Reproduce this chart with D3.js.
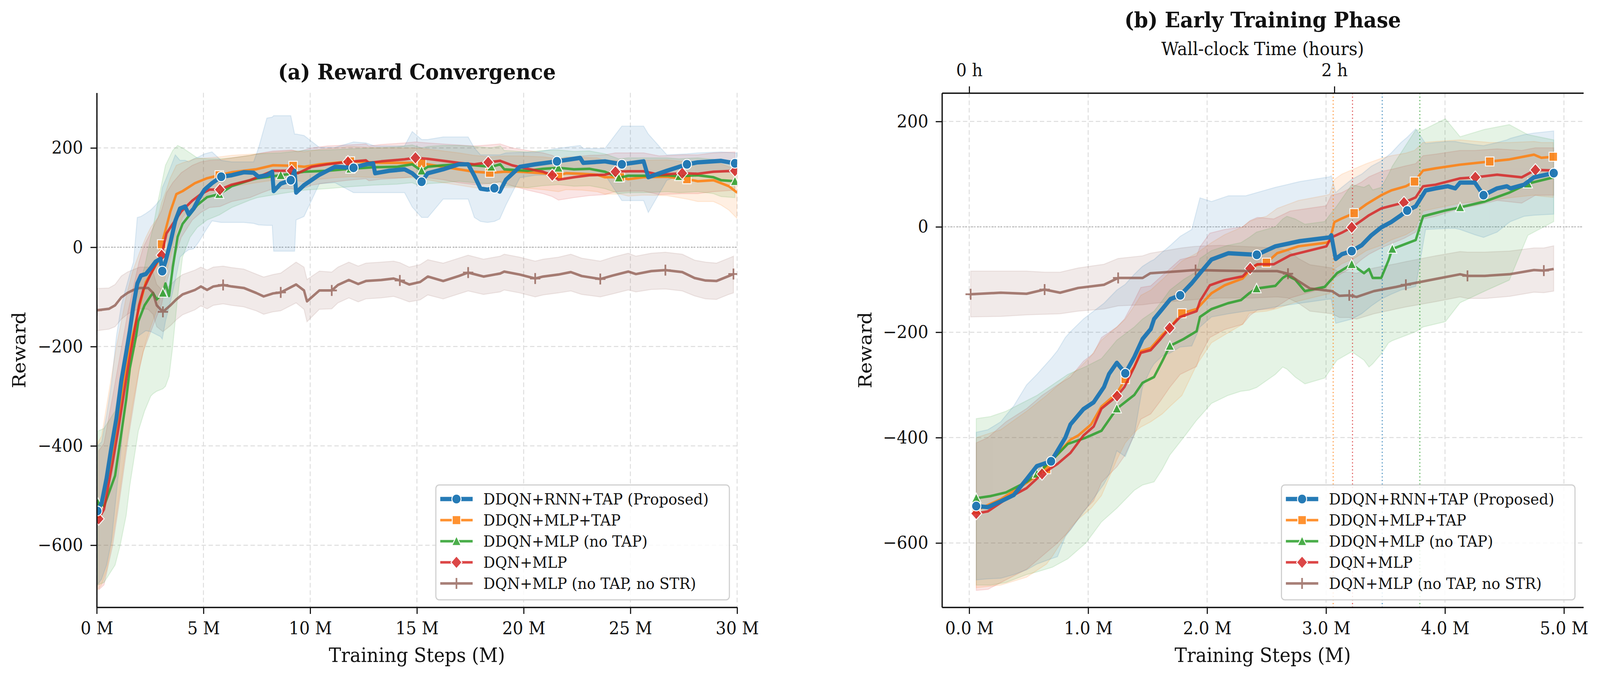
<!DOCTYPE html>
<html>
<head>
<meta charset="utf-8">
<script src="https://cdn.jsdelivr.net/npm/d3@7"></script>
<style>
  html, body { margin: 0; padding: 0; background: #fff; overflow: hidden; }
  svg { display: block; width: 100vw; height: 100vh; font-family: "DejaVu Serif", serif; }
</style>
</head>
<body>
<svg id="chart" viewBox="0 0 4350 1735" preserveAspectRatio="none"></svg>
<script>
// ---------- data ----------
const labels = ["DDQN+RNN+TAP (Proposed)", "DDQN+MLP+TAP", "DDQN+MLP (no TAP)", "DQN+MLP", "DQN+MLP (no TAP, no STR)"];

// panel (a): [steps (M), mean reward, lower band, upper band]
const aBlue = [
  [0.03,-531,-680,-400],[0.23,-515,-668,-392],[0.46,-465,-640,-338],[0.69,-402,-591,-275],
  [0.92,-345,-496,-180],[1.15,-269,-401,-117],[1.38,-212,-294,-80],[1.55,-168,-215,-54],
  [1.72,-117,-190,-30],[1.90,-73,-180,60],[2.07,-57,-175,62],[2.30,-54,-168,68],
  [2.53,-42,-170,75],[2.76,-29,-175,85],[2.99,-23,-180,97],[3.07,-48,-185,120],
  [3.22,-29,-149,135],[3.45,9,-110,160],[3.68,53,-67,186],[3.90,78,-20,175],
  [4.14,82,-10,175],[4.31,66,-5,172],[4.54,78,-3,178],[4.77,97,10,182],
  [5.05,116,30,188],[5.40,129,53,192],[5.83,142,50,175],[6.32,145,50,172],
  [6.89,151,50,172],[7.35,150,48,172],[7.58,142,45,200],[7.97,145,44,260],
  [8.22,152,44,262],[8.29,113,-8,265],[8.62,128,-8,265],[9.09,135,-8,265],
  [9.27,154,-8,228],[9.34,110,55,228],[9.71,125,62,225],[10.43,146,128,201],
  [11.16,162,130,201],[12.03,160,110,212],[12.61,167,110,210],[12.95,169,110,205],
  [13.04,149,110,204],[13.70,154,110,204],[14.42,157,110,204],[14.78,149,81,233],
  [15.22,132,60,217],[15.51,149,60,217],[16.23,157,97,222],[16.96,167,97,222],
  [17.40,167,97,222],[17.69,144,60,200],[17.98,118,52,186],[18.30,116,50,186],
  [18.63,119,52,186],[18.88,112,57,186],[19.17,136,85,190],[19.82,162,140,191],
  [20.54,167,145,191],[21.56,173,146,199],[22.65,180,146,205],[22.79,170,146,199],
  [23.81,173,146,199],[24.60,167,94,244],[25.62,173,94,244],[25.84,141,70,228],
  [26.71,154,135,186],[27.65,167,148,188],[28.16,171,150,190],[29.25,174,152,192],
  [29.90,169,150,190],[30.00,170,150,190]
];
const aOrange = [
  [0.03,-538,-690,-395],[0.23,-522,-680,-380],[0.46,-478,-650,-320],[0.69,-420,-600,-260],
  [0.92,-365,-540,-200],[1.15,-300,-470,-150],[1.38,-240,-400,-100],[1.67,-180,-320,-50],
  [2.01,-117,-240,-10],[2.30,-70,-190,20],[2.53,-54,-160,40],[2.87,-29,-120,60],
  [3.04,6,-90,90],[3.22,34,-60,110],[3.45,72,-20,140],[3.73,107,30,165],
  [4.02,113,60,170],[4.60,129,90,178],[5.17,139,105,180],[5.74,145,115,182],
  [6.32,151,122,185],[7.47,157,130,188],[8.26,165,135,192],[9.20,164,135,195],
  [9.71,162,132,192],[10.43,167,137,197],[11.16,170,140,200],[11.88,173,142,203],
  [13.33,170,140,200],[14.78,170,140,200],[15.22,169,138,199],[16.23,162,130,194],
  [16.96,157,125,190],[17.69,152,120,185],[18.41,150,118,182],[19.10,152,120,184],
  [19.82,152,120,184],[20.91,149,116,182],[21.63,145,112,178],[21.99,149,116,182],
  [22.72,148,115,181],[23.44,146,112,180],[23.81,141,107,175],[24.53,141,107,175],
  [24.90,137,103,171],[25.62,141,105,175],[26.71,142,104,176],[27.65,137,97,172],
  [28.16,133,92,170],[28.89,135,92,172],[29.25,129,85,168],[29.61,123,75,162],
  [30.00,110,58,155]
];
const aGreen = [
  [0.06,-515,-680,-370],[0.34,-522,-675,-365],[0.86,-460,-640,-330],[1.10,-390,-600,-270],
  [1.38,-307,-540,-200],[1.55,-244,-480,-150],[1.84,-180,-400,-100],[1.95,-149,-370,-80],
  [2.24,-117,-330,-40],[2.53,-98,-300,20],[2.64,-92,-295,40],[2.81,-105,-290,80],
  [3.10,-92,-285,140],[3.22,-73,-280,165],[3.39,-98,-260,180],[3.56,-41,-200,195],
  [3.79,21,-100,205],[4.02,47,-20,200],[4.37,66,20,190],[4.71,85,40,180],
  [5.17,101,55,178],[5.74,107,65,178],[6.32,123,80,180],[7.18,135,95,185],
  [7.53,139,100,188],[8.62,145,108,190],[9.71,152,115,195],[10.80,154,118,196],
  [11.88,158,122,198],[12.97,161,125,200],[14.06,162,127,202],[14.78,167,130,206],
  [15.22,154,122,200],[15.51,162,128,203],[16.23,165,130,205],[16.96,167,133,205],
  [17.69,165,130,203],[18.48,162,128,200],[18.90,167,132,204],[19.09,157,124,195],
  [20.18,154,120,192],[20.91,158,124,195],[21.63,160,126,196],[22.36,157,123,193],
  [23.08,158,124,194],[23.81,152,118,188],[24.46,140,108,178],[24.90,144,110,180],
  [25.62,144,110,180],[26.71,145,112,180],[27.29,143,110,178],[28.16,145,112,180],
  [28.89,141,108,177],[29.25,135,102,172],[29.90,133,100,170]
];
const aRed = [
  [0.09,-547,-690,-410],[0.34,-528,-680,-395],[0.75,-433,-600,-300],[1.00,-370,-530,-240],
  [1.23,-307,-460,-185],[1.46,-244,-390,-130],[1.72,-180,-320,-80],[1.98,-117,-250,-30],
  [2.18,-86,-210,0],[2.53,-54,-170,30],[2.99,-16,-120,70],[3.04,-16,-115,75],
  [3.27,28,-70,110],[3.56,47,-30,130],[3.96,72,20,150],[4.48,94,55,165],
  [4.88,107,70,172],[5.28,116,80,175],[5.77,116,82,176],[6.32,126,92,180],
  [7.18,135,100,185],[7.75,145,110,190],[8.26,154,118,194],[9.13,154,118,196],
  [9.42,149,114,192],[10.07,162,125,200],[10.80,167,130,204],[11.77,172,135,206],
  [12.61,175,138,208],[12.75,170,134,204],[13.33,173,137,207],[14.42,177,140,210],
  [14.93,180,143,212],[15.51,178,140,210],[16.23,174,136,208],[16.96,170,130,206],
  [17.69,167,126,204],[18.34,171,128,206],[18.90,174,132,208],[19.46,165,124,200],
  [20.18,158,115,195],[20.91,152,108,190],[21.34,145,102,185],[21.63,136,95,178],
  [22.36,141,100,182],[23.08,145,104,185],[23.81,146,106,186],[24.30,152,112,190],
  [24.90,153,113,190],[25.62,153,113,190],[26.35,146,106,184],[27.43,149,108,186],
  [28.16,148,108,186],[28.89,152,112,190],[29.90,154,115,192]
];
const aBrown = [
  [0.00,-127,-168,-83],[0.57,-124,-165,-82],[0.86,-117,-160,-75],[1.15,-101,-145,-58],
  [1.44,-92,-135,-50],[1.72,-86,-128,-45],[2.01,-82,-124,-40],[2.41,-82,-125,-40],
  [2.64,-92,-135,-50],[2.81,-117,-160,-75],[3.10,-130,-170,-88],[3.45,-117,-158,-76],
  [3.73,-105,-146,-64],[4.02,-95,-136,-55],[4.60,-86,-126,-46],[4.88,-79,-118,-40],
  [5.17,-86,-124,-46],[5.46,-79,-117,-40],[5.92,-76,-114,-38],[6.32,-79,-117,-41],
  [6.89,-82,-120,-44],[7.47,-92,-128,-54],[7.82,-99,-135,-60],[8.26,-93,-130,-55],
  [8.62,-91,-128,-52],[9.34,-75,-112,-30],[9.71,-87,-125,-40],[9.85,-109,-150,-65],
  [10.43,-87,-125,-48],[11.01,-87,-124,-50],[11.30,-76,-112,-40],[11.81,-66,-102,-30],
  [12.25,-74,-110,-38],[12.61,-68,-104,-32],[13.33,-66,-102,-30],[13.91,-63,-99,-28],
  [14.20,-67,-103,-31],[14.64,-75,-110,-40],[15.15,-70,-106,-35],[15.51,-59,-96,-25],
  [16.23,-68,-104,-32],[16.96,-58,-94,-22],[17.40,-51,-88,-16],[18.12,-59,-95,-24],
  [18.90,-53,-90,-18],[19.09,-49,-86,-14],[19.82,-55,-92,-20],[20.54,-63,-100,-28],
  [20.91,-59,-96,-24],[21.63,-55,-92,-20],[22.21,-50,-88,-14],[22.72,-58,-95,-22],
  [23.59,-64,-100,-28],[24.17,-57,-94,-20],[24.90,-49,-86,-12],[25.26,-54,-90,-18],
  [25.98,-48,-85,-12],[26.64,-46,-84,-10],[27.43,-50,-88,-14],[28.01,-62,-98,-26],
  [28.52,-67,-104,-30],[29.03,-68,-105,-32],[29.61,-58,-95,-22],[29.83,-54,-92,-18]
];
const aMarks = [
  [0.03, 3.07, 5.83, 9.09, 12.03, 15.22, 18.63, 21.56, 24.60, 27.65, 29.90],
  [0.03, 3.04, 5.74, 9.20, 11.88, 15.22, 18.41, 21.63, 24.53, 27.65],
  [0.06, 3.10, 5.74, 8.62, 11.88, 15.22, 18.48, 21.63, 24.46, 27.29, 29.90],
  [0.09, 3.04, 5.77, 9.13, 11.77, 14.93, 18.34, 21.34, 24.30, 27.43, 29.90],
  [0.00, 3.10, 5.92, 8.62, 11.01, 14.20, 17.40, 20.54, 23.59, 26.64, 29.83]
];

// panel (b): [steps (M), mean reward, lower band, upper band]
const bBlue = [
  [0.059,-530,-670,-390],[0.157,-532,-668,-385],[0.265,-521,-667,-370],[0.374,-509,-660,-340],
  [0.482,-479,-651,-300],[0.569,-454,-640,-280],[0.688,-445,-630,-250],[0.742,-425,-626,-235],
  [0.808,-400,-588,-210],[0.851,-375,-575,-199],[0.960,-346,-542,-175],[1.046,-333,-515,-160],
  [1.133,-304,-488,-145],[1.176,-279,-470,-135],[1.241,-258,-425,-120],[1.312,-278,-436,-109],
  [1.388,-247,-394,-90],[1.457,-213,-304,-75],[1.526,-194,-270,-65],[1.554,-175,-260,-62],
  [1.623,-156,-245,-48],[1.692,-137,-239,-35],[1.774,-130,-228,-18],[1.871,-107,-226,-5],
  [1.940,-88,-190,55],[2.037,-62,-171,48],[2.180,-50,-165,59],[2.325,-52,-160,59],
  [2.418,-53,-158,65],[2.574,-37,-152,75],[2.781,-27,-145,86],[3.030,-20,-137,95],
  [3.044,-16,-137,97],[3.081,-61,-183,65],[3.133,-52,-180,75],[3.216,-46,-175,90],
  [3.299,-35,-165,100],[3.381,-16,-150,115],[3.464,-1,-137,125],[3.547,9,-128,140],
  [3.630,22,-120,160],[3.682,31,-117,170],[3.754,39,-113,186],[3.837,69,-5,158],
  [3.920,73,-4,160],[4.023,77,-3,162],[4.086,73,-3,162],[4.127,84,-5,160],
  [4.251,84,-15,156],[4.324,60,-20,154],[4.438,73,-10,160],[4.520,77,5,165],
  [4.550,73,10,168],[4.665,80,20,175],[4.748,94,22,178],[4.914,102,24,182]
];
const bOrange = [
  [0.059,-538,-685,-400],[0.265,-517,-680,-385],[0.482,-486,-665,-350],[0.650,-460,-640,-320],
  [0.699,-442,-625,-310],[0.851,-404,-571,-280],[0.916,-396,-555,-270],[1.025,-375,-534,-245],
  [1.112,-341,-510,-215],[1.241,-316,-442,-190],[1.312,-289,-410,-175],[1.388,-266,-390,-150],
  [1.443,-236,-380,-130],[1.526,-230,-370,-120],[1.623,-205,-355,-100],[1.692,-190,-340,-85],
  [1.788,-164,-320,-65],[1.912,-156,-262,-50],[2.037,-126,-220,-30],[2.147,-111,-205,-15],
  [2.299,-98,-185,0],[2.354,-84,-164,10],[2.410,-73,-162,15],[2.499,-68,-160,20],
  [2.589,-50,-155,35],[2.768,-37,-141,50],[3.003,-30,-128,60],[3.030,-27,-127,62],
  [3.070,9,-80,90],[3.133,16,-70,100],[3.236,26,-60,110],[3.340,43,-45,120],
  [3.464,60,-35,130],[3.547,69,-25,135],[3.671,77,-15,140],[3.744,86,-5,145],
  [3.816,107,30,160],[3.920,111,35,162],[4.127,118,45,165],[4.376,124,50,160],
  [4.541,128,55,160],[4.748,137,60,162],[4.810,131,58,160],[4.910,133,56,160]
];
const bGreen = [
  [0.059,-515,-680,-364],[0.179,-511,-680,-360],[0.309,-504,-675,-350],[0.482,-484,-660,-330],
  [0.569,-469,-655,-320],[0.699,-442,-646,-300],[0.829,-412,-630,-280],[0.981,-400,-600,-265],
  [1.112,-387,-560,-250],[1.241,-345,-534,-215],[1.388,-319,-500,-190],[1.457,-296,-490,-175],
  [1.554,-285,-484,-160],[1.623,-255,-460,-140],[1.687,-226,-433,-120],[1.802,-213,-400,-100],
  [1.912,-198,-367,-85],[1.940,-171,-360,-60],[2.037,-156,-335,-45],[2.175,-145,-320,-35],
  [2.285,-139,-312,-30],[2.354,-126,-310,-20],[2.416,-117,-305,-10],[2.574,-112,-280,0],
  [2.636,-97,-266,15],[2.671,-92,-270,20],[2.740,-100,-285,15],[2.822,-122,-298,5],
  [2.988,-114,-287,10],[3.092,-88,-253,40],[3.216,-71,-237,80],[3.319,-88,-253,75],
  [3.361,-80,-266,80],[3.392,-97,-260,70],[3.464,-97,-241,75],[3.526,-63,-220,100],
  [3.557,-42,-216,115],[3.754,-25,-199,184],[3.816,20,-190,184],[4.003,31,-180,205],
  [4.127,37,-144,171],[4.334,48,-122,185],[4.541,65,-101,194],[4.697,82,-16,175],
  [4.914,94,10,165]
];
const bRed = [
  [0.059,-544,-690,-410],[0.157,-540,-688,-400],[0.309,-517,-670,-370],[0.482,-496,-650,-345],
  [0.612,-469,-625,-320],[0.742,-450,-600,-300],[0.851,-429,-575,-285],[0.960,-396,-540,-255],
  [1.046,-379,-520,-240],[1.112,-345,-485,-210],[1.243,-321,-455,-190],[1.305,-304,-435,-175],
  [1.388,-266,-395,-140],[1.443,-239,-365,-115],[1.526,-234,-355,-112],[1.609,-213,-330,-95],
  [1.685,-192,-305,-80],[1.774,-171,-280,-62],[1.912,-160,-265,-55],[1.940,-141,-245,-38],
  [2.023,-111,-210,-12],[2.147,-101,-195,-5],[2.299,-94,-185,0],[2.362,-79,-168,12],
  [2.423,-71,-158,18],[2.561,-71,-155,15],[2.699,-54,-135,30],[3.003,-37,-115,40],
  [3.044,-20,-100,60],[3.085,-16,-95,62],[3.133,-11,-88,65],[3.216,-1,-78,75],
  [3.299,12,-62,85],[3.361,22,-52,95],[3.464,35,-40,105],[3.568,41,-30,110],
  [3.655,46,-22,115],[3.754,56,-10,120],[3.816,77,15,135],[3.920,80,20,138],
  [4.127,92,35,145],[4.255,94,40,145],[4.438,99,50,148],[4.645,94,45,145],
  [4.760,108,60,150],[4.914,107,60,150]
];
const bBrown = [
  [0.012,-128,-171,-84],[0.265,-125,-170,-84],[0.482,-127,-167,-84],[0.634,-119,-166,-86],
  [0.764,-125,-165,-86],[0.916,-116,-160,-78],[1.133,-110,-156,-71],[1.252,-97,-150,-60],
  [1.458,-97,-148,-55],[1.523,-88,-146,-50],[1.784,-84,-140,-40],[1.903,-82,-138,-37],
  [2.109,-83,-135,-35],[2.380,-84,-135,-38],[2.589,-84,-133,-40],[2.680,-89,-135,-45],
  [2.768,-103,-145,-60],[2.865,-117,-160,-72],[3.050,-122,-165,-78],[3.112,-131,-172,-86],
  [3.195,-130,-172,-86],[3.257,-133,-175,-88],[3.402,-122,-165,-78],[3.589,-114,-156,-70],
  [3.671,-110,-152,-66],[3.920,-99,-142,-55],[4.127,-90,-133,-47],[4.189,-93,-136,-48],
  [4.334,-93,-136,-48],[4.541,-90,-132,-46],[4.748,-82,-124,-40],[4.831,-83,-125,-40],
  [4.914,-80,-122,-36]
];
const bMarks = [
  [0.059, 0.688, 1.312, 1.774, 2.418, 3.216, 3.682, 4.324, 4.914],
  [0.059, 0.650, 1.312, 1.788, 2.499, 3.236, 3.744, 4.376, 4.910],
  [0.059, 0.569, 1.241, 1.687, 2.416, 3.216, 3.557, 4.127, 4.697],
  [0.059, 0.612, 1.243, 1.685, 2.362, 3.216, 3.655, 4.255, 4.760],
  [0.012, 0.634, 1.252, 1.903, 2.680, 3.195, 3.671, 4.189, 4.831]
];

const aStepTicks = [0, 5, 10, 15, 20, 25, 30];
const bStepTicks = [0, 1, 2, 3, 4, 5];
const rewardTicks = [-600, -400, -200, 0, 200];
const hourTicks = [0, 2];
const stepsPerHour = 1.535; // M steps per wall-clock hour

// ---------- style ----------
const colors = ["#1f77b4", "#ff7f0e", "#2ca02c", "#d62728", "#8c564b"];
const shapes = ["circle", "square", "triangle", "diamond", "plus"];
const lineW = [11, 6.5, 6.5, 6.5, 6.5];
const lineAlpha = [0.97, 0.85, 0.85, 0.85, 0.75];
const drawOrder = [1, 2, 3, 4, 0];
const bandOrder = [4, 3, 2, 1, 0];
const minus = (d) => (d < 0 ? "\u2212" + Math.abs(d) : String(d));

const svg = d3.select("#chart");
svg.append("rect").attr("width", 4350).attr("height", 1735).attr("fill", "#fff");

function addMarker(g, shape, cx, cy, color) {
  if (shape === "circle") {
    g.append("circle").attr("cx", cx).attr("cy", cy).attr("r", 12.5)
      .attr("fill", color).attr("stroke", "#fff").attr("stroke-width", 2.5);
  } else if (shape === "square") {
    g.append("rect").attr("x", cx - 11.5).attr("y", cy - 11.5).attr("width", 23).attr("height", 23)
      .attr("fill", color).attr("stroke", "#fff").attr("stroke-width", 2.5);
  } else if (shape === "triangle") {
    g.append("path").attr("d", `M${cx},${cy - 13}L${cx + 12.5},${cy + 11}L${cx - 12.5},${cy + 11}Z`)
      .attr("fill", color).attr("stroke", "#fff").attr("stroke-width", 2.5);
  } else if (shape === "diamond") {
    g.append("path").attr("d", `M${cx},${cy - 16}L${cx + 15},${cy}L${cx},${cy + 16}L${cx - 15},${cy}Z`)
      .attr("fill", color).attr("stroke", "#fff").attr("stroke-width", 2.5);
  } else {
    g.append("path").attr("d", `M${cx - 14},${cy}H${cx + 14}M${cx},${cy - 14}V${cy + 14}`)
      .attr("stroke", color).attr("stroke-width", 4.5).attr("fill", "none");
  }
}

function drawPanel(cfg) {
  const { x, y, series, marks, xTicks, xFmt, id } = cfg;
  const [x0, x1] = x.range();
  const [yb, yt] = y.range();
  const g = svg.append("g");

  svg.append("clipPath").attr("id", id).append("rect")
    .attr("x", x0).attr("y", yt).attr("width", x1 - x0).attr("height", yb - yt);

  // grid
  const grid = g.append("g").attr("stroke", "#dddddd").attr("stroke-width", 2.5)
    .attr("stroke-dasharray", "12,7");
  xTicks.forEach((t) => grid.append("line").attr("x1", x(t)).attr("x2", x(t)).attr("y1", yt).attr("y2", yb));
  rewardTicks.forEach((t) => grid.append("line").attr("x1", x0).attr("x2", x1).attr("y1", y(t)).attr("y2", y(t)));

  g.append("line").attr("x1", x0).attr("x2", x1).attr("y1", y(0)).attr("y2", y(0))
    .attr("stroke", "#999").attr("stroke-width", 2.2).attr("stroke-dasharray", "3,5");

  const plot = g.append("g").attr("clip-path", `url(#${id})`);

  const area = d3.area().x((d) => x(d[0])).y0((d) => y(d[2])).y1((d) => y(d[3]));
  bandOrder.forEach((i) => {
    plot.append("path").datum(series[i]).attr("d", area)
      .attr("fill", colors[i]).attr("fill-opacity", 0.12)
      .attr("stroke", colors[i]).attr("stroke-opacity", 0.13).attr("stroke-width", 2.5);
  });

  if (cfg.after) cfg.after(plot);

  const line = d3.line().x((d) => x(d[0])).y((d) => y(d[1]));
  drawOrder.forEach((i) => {
    const rows = series[i];
    const sg = plot.append("g").attr("opacity", lineAlpha[i]);
    sg.append("path").datum(rows).attr("d", line).attr("fill", "none")
      .attr("stroke", colors[i]).attr("stroke-width", lineW[i]).attr("stroke-linejoin", "round");
    marks[i].forEach((mx) => {
      const d = rows.reduce((a, b) => (Math.abs(b[0] - mx) < Math.abs(a[0] - mx) ? b : a));
      addMarker(sg, shapes[i], x(d[0]), y(d[1]), colors[i]);
    });
  });

  // axes
  const ax = g.append("g").attr("transform", `translate(0,${yb})`)
    .call(d3.axisBottom(x).tickValues(xTicks).tickFormat(xFmt).tickSize(17).tickSizeOuter(0).tickPadding(20));
  const ay = g.append("g").attr("transform", `translate(${x0},0)`)
    .call(d3.axisLeft(y).tickValues(rewardTicks).tickFormat(minus).tickSize(17).tickSizeOuter(0).tickPadding(20));
  [ax, ay].forEach((a) => {
    a.selectAll("text").attr("font-family", "DejaVu Serif").attr("font-size", 45).attr("fill", "#111");
    a.selectAll("line").attr("stroke", "#111").attr("stroke-width", 3);
    a.select(".domain").attr("stroke", "#111").attr("stroke-width", 3.5);
  });

  g.append("text").attr("x", (x0 + x1) / 2).attr("y", 1694).attr("text-anchor", "middle")
    .attr("font-size", 50).attr("fill", "#111").text("Training Steps (M)");
  g.append("text").attr("transform", `translate(${cfg.yLabelX},${(yb + yt) / 2}) rotate(-90)`)
    .attr("text-anchor", "middle").attr("font-size", 50).attr("fill", "#111").text("Reward");
  g.append("text").attr("x", (x0 + x1) / 2).attr("y", cfg.titleY).attr("text-anchor", "middle")
    .attr("font-size", 55).attr("font-weight", "bold").attr("fill", "#111").text(cfg.title);

  // legend
  const lx = cfg.legendX, ly = 1241;
  const lg = g.append("g");
  lg.append("rect").attr("x", lx).attr("y", ly).attr("width", 798).attr("height", 294).attr("rx", 9)
    .attr("fill", "#fff").attr("fill-opacity", 0.85).attr("stroke", "#cfcfcf").attr("stroke-width", 3);
  labels.forEach((lab, i) => {
    const ry = ly + 36 + i * 54;
    const hg = lg.append("g").attr("opacity", lineAlpha[i]);
    hg.append("line").attr("x1", lx + 12).attr("x2", lx + 100).attr("y1", ry).attr("y2", ry)
      .attr("stroke", colors[i]).attr("stroke-width", lineW[i]);
    addMarker(hg, shapes[i], lx + 56, ry, colors[i]);
    lg.append("text").attr("x", lx + 129).attr("y", ry + 14).attr("font-size", 40).attr("fill", "#111").text(lab);
  });
  return g;
}

// panel (a)
const xA = d3.scaleLinear().domain([0, 30]).range([263, 2004]);
const yA = d3.scaleLinear().domain([-725, 311]).range([1554, 237.5]);
drawPanel({
  id: "clipA", x: xA, y: yA, series: [aBlue, aOrange, aGreen, aRed, aBrown], marks: aMarks,
  xTicks: aStepTicks, xFmt: (d) => d + " M", yLabelX: 69, titleY: 203,
  title: "(a) Reward Convergence", legendX: 1185
});

// panel (b)
const xB = d3.scaleLinear().domain([-0.229, 5.164]).range([2561, 4305]);
const yB = d3.scaleLinear().domain([-722, 254]).range([1554, 238]);
const bSeries = [bBlue, bOrange, bGreen, bRed, bBrown];
const gB = drawPanel({
  id: "clipB", x: xB, y: yB, series: bSeries, marks: bMarks,
  xTicks: bStepTicks, xFmt: (d) => d.toFixed(1) + " M", yLabelX: 2369, titleY: 70,
  title: "(b) Early Training Phase", legendX: 3484,
  after: (plot) => {
    // step at which each method's mean reward crosses zero
    bSeries.forEach((rows, i) => {
      let cross = null;
      for (let k = 1; k < rows.length; k++) {
        if (rows[k - 1][1] < 0 && rows[k][1] >= 0) {
          const t = -rows[k - 1][1] / (rows[k][1] - rows[k - 1][1]);
          cross = rows[k - 1][0] + t * (rows[k][0] - rows[k - 1][0]);
        }
      }
      if (cross === null) return;
      plot.append("line").attr("x1", xB(cross)).attr("x2", xB(cross)).attr("y1", 238).attr("y2", 1554)
        .attr("stroke", colors[i]).attr("stroke-opacity", 0.7).attr("stroke-width", 3)
        .attr("stroke-dasharray", "3,6");
    });
  }
});

// top wall-clock axis
const hB = d3.scaleLinear().domain(xB.domain().map((v) => v / stepsPerHour)).range(xB.range());
const at = gB.append("g").attr("transform", "translate(0,238)")
  .call(d3.axisTop(hB).tickValues(hourTicks).tickFormat((d) => d + " h").tickSize(17).tickSizeOuter(0).tickPadding(26));
at.selectAll("text").attr("font-family", "DejaVu Serif").attr("font-size", 45).attr("fill", "#111");
at.selectAll("line").attr("stroke", "#111").attr("stroke-width", 3);
at.select(".domain").attr("stroke", "#111").attr("stroke-width", 3.5);
gB.append("text").attr("x", (2561 + 4305) / 2).attr("y", 141).attr("text-anchor", "middle")
  .attr("font-size", 46).attr("fill", "#111").text("Wall-clock Time (hours)");
</script>
</body>
</html>
